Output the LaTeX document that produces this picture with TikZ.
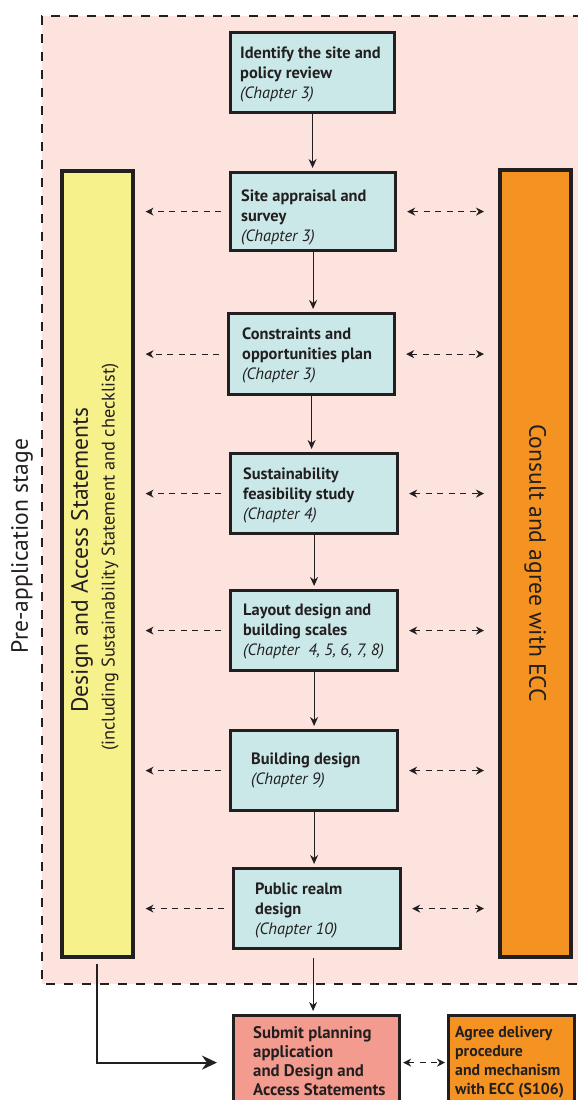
\documentclass[tikz,border=0pt]{standalone}
\usepackage{fontspec}
\setmainfont{PT Sans}
\usetikzlibrary{arrows.meta,calc}
\definecolor{ink}{HTML}{231F20}
\definecolor{bgpink}{HTML}{FDE3DD}
\definecolor{boxblue}{HTML}{CAE8E8}
\definecolor{yelfill}{HTML}{F7F18C}
\definecolor{orgfill}{HTML}{F59322}
\definecolor{salmon}{HTML}{F29B8E}
\begin{document}
\begin{tikzpicture}[x=1pt,y=-1pt,
  box/.style={draw=ink, line width=3.2pt, anchor=north west, inner sep=0pt, fill=boxblue},
  bar/.style={draw=ink, line width=3.6pt, anchor=north west, inner sep=0pt},
  btext/.style={anchor=north west, inner sep=0pt, align=left, text=ink, font=\fontsize{16.4}{20}\selectfont\bfseries},
  flow/.style={draw=ink, line width=1.2pt, -{Stealth[length=9pt,width=8pt]}, shorten >=3pt},
  dasharr/.style={draw=ink, line width=1.1pt, dash pattern=on 6pt off 5.5pt, -{Stealth[length=8pt,width=8pt]}},
  ddarr/.style={draw=ink, line width=1.1pt, dash pattern=on 6pt off 5.5pt, {Stealth[length=8pt,width=8pt]}-{Stealth[length=8pt,width=8pt]}},
  bigarrow/.style={draw=ink, line width=2pt, -{Stealth[length=15pt,width=14pt]}},
  vlabel/.style={text=ink, inner sep=0pt, font=\fontsize{23.6}{28}\selectfont}
]
\useasboundingbox (0,0) rectangle (578,1100);
\clip (0,0) rectangle (578,1100);

% pre-application region
\fill[bgpink] (42,16) rectangle (600,984);
\draw[ink, line width=1.2pt, dash pattern=on 9pt off 9pt] (600,16) -- (42,16) -- (42,984) -- (600,984);
\node[vlabel, rotate=90] (pre) at (22,546) {Pre-application stage};

% side bars
\node[bar, fill=yelfill, minimum width=71pt, minimum height=786pt] (yel) at (60,169) {};
\node[vlabel, rotate=90] (das) at (82,560) {Design and Access Statements};
\node[text=ink, inner sep=0pt, rotate=90, font=\fontsize{18.3}{22}\selectfont] (incl) at (110,557) {(including Sustainability Statement and checklist)};
\node[bar, fill=orgfill, minimum width=71pt, minimum height=787pt] (org) at (498,168) {};
\node[vlabel, rotate=-90] (ecc) at (org.center) {Consult and agree with ECC};

% central boxes
\node[box, minimum width=164pt, minimum height=80pt] (b1) at (229,31) {};
\node[btext] (t1) at (240,46.5) {Identify the site and\\policy review\\{\mdseries\itshape (Chapter 3)}};
\node[box, minimum width=165pt, minimum height=78pt] (b2) at (229,171) {};
\node[btext] (t2) at (241,190) {Site appraisal and\\survey\\{\mdseries\itshape (Chapter 3)}};
\node[box, minimum width=166pt, minimum height=81pt] (b3) at (227,312) {};
\node[btext] (t3) at (242,327.5) {Constraints and\\opportunities plan\\{\mdseries\itshape (Chapter 3)}};
\node[box, minimum width=167pt, minimum height=80pt] (b4) at (229,452) {};
\node[btext] (t4) at (243,468) {Sustainability\\feasibility study\\{\mdseries\itshape (Chapter 4)}};
\node[box, minimum width=167pt, minimum height=80pt] (b5) at (229,589) {};
\node[btext] (t5) at (243,604) {Layout design and\\building scales\\{\mdseries\itshape (Chapter~~4, 5, 6, 7, 8)}};
\node[box, minimum width=167pt, minimum height=80pt] (b6) at (229,729) {};
\node[btext] (t6) at (251,753) {Building design\\{\mdseries\itshape (Chapter 9)}};
\node[box, minimum width=167pt, minimum height=80pt] (b7) at (232,867) {};
\node[btext] (t7) at (255,883) {Public realm\\design\\{\mdseries\itshape (Chapter 10)}};

% bottom boxes
\node[box, fill=salmon, minimum width=166pt, minimum height=94pt] (sub) at (232,1014) {};
\node[btext, font=\fontsize{16.8}{19}\selectfont\bfseries] (ts) at (253,1026) {Submit planning\\application\\and Design and\\Access Statements};
\node[box, fill=orgfill, minimum width=126pt, minimum height=94pt] (agr) at (447,1014) {};
\node[btext, font=\fontsize{15.8}{19}\selectfont\bfseries] (ta) at (455,1026) {Agree delivery\\procedure\\and mechanism\\with ECC (S106)};

% flow arrows
\draw[flow] (b1.south) -- (b1.south |- b2.north);
\draw[flow] (b2.south) -- (b2.south |- b3.north);
\draw[flow] (b3.south) -- (b3.south |- b4.north);
\draw[flow] (b4.south) -- (b4.south |- b5.north);
\draw[flow] (b5.south) -- (b5.south |- b6.north);
\draw[flow] (b6.south) -- (b6.south |- b7.north);
\draw[flow] ($(b7.south)+(-4,8)$) -- ($(b7.south |- sub.north)+(-4,0)$);

% dashed arrows to the side bars
\foreach \b in {b2,b3,b4,b5,b6,b7}{
  \draw[dasharr] ($(\b.west)+(-8,0)$) -- ($(yel.east |- \b.west)+(11,0)$);
  \draw[ddarr] ($(\b.east)+(10,0)$) -- ($(org.west |- \b.east)+(-14,0)$);
}

% bottom connectors
\draw[bigarrow] ($(yel.south)+(0,5)$) |- ($(sub.west)+(-15,0)$);
\draw[ddarr] ($(sub.east)+(2,0)$) -- ($(agr.west)+(-2,0)$);
\end{tikzpicture}
\end{document}
